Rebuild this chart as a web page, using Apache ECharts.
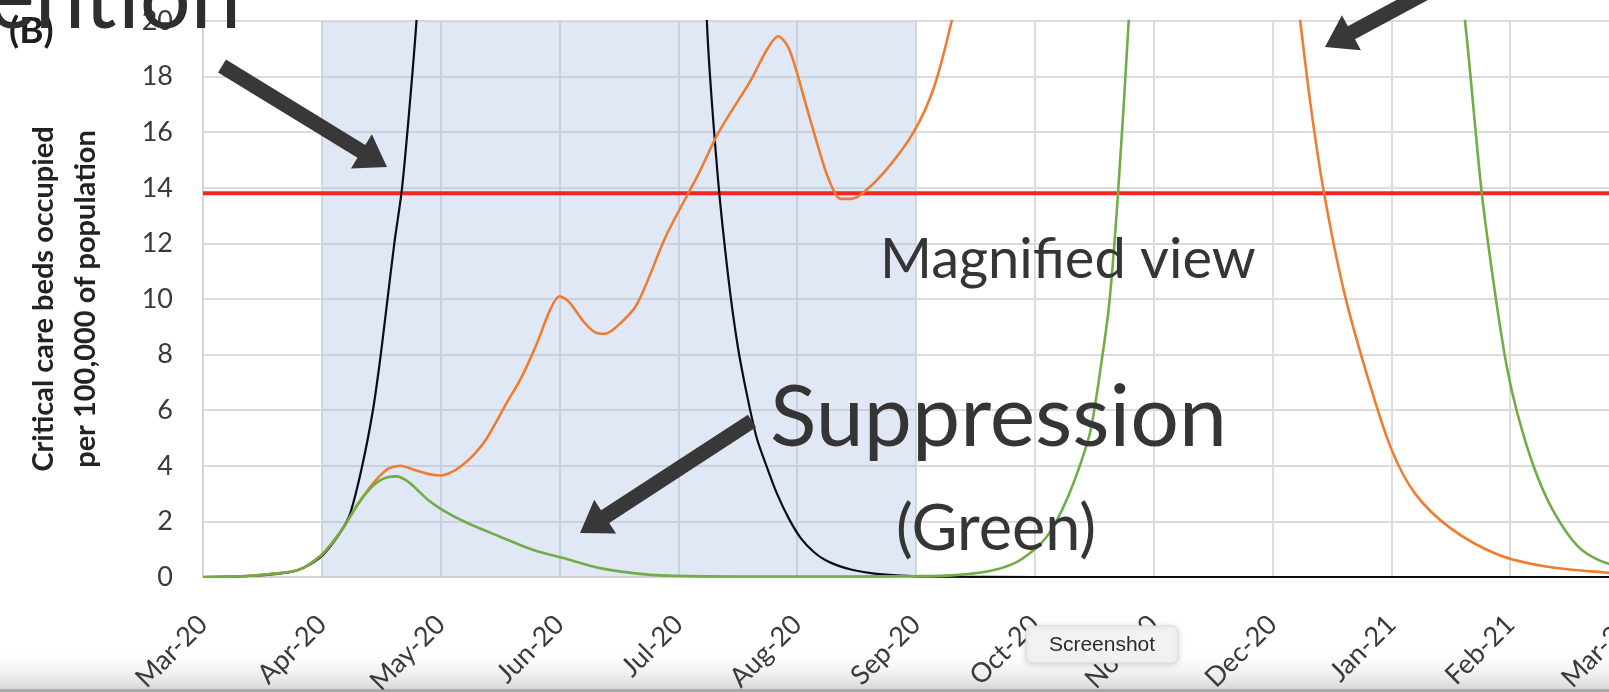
<!DOCTYPE html>
<html>
<head>
<meta charset="utf-8">
<script src="https://cdn.jsdelivr.net/npm/echarts@6/dist/echarts.min.js"></script>
<style>
  html, body { margin: 0; padding: 0; background: #ffffff; }
  #chart { width: 1609px; height: 692px; }
</style>
</head>
<body>
<div id="chart"></div>
<script>
// Month tick labels; x values below are months elapsed since Mar-20.
const monthLabels = ['Mar-20', 'Apr-20', 'May-20', 'Jun-20', 'Jul-20', 'Aug-20', 'Sep-20',
                     'Oct-20', 'Nov-20', 'Dec-20', 'Jan-21', 'Feb-21', 'Mar-21'];

// Critical care beds occupied per 100,000 — unmitigated epidemic (black)
const noActionX = [0, 0.3, 0.6, 0.8, 0.985, 1.09, 1.17, 1.24, 1.34, 1.43, 1.49, 1.55, 1.61, 1.675, 1.74, 1.80,
                   1.9, 2.0, 2.2, 2.5, 2.9, 3.3, 3.7, 4.0, 4.12,
                   4.24, 4.33, 4.42, 4.50, 4.58, 4.66, 4.75, 4.83, 4.93, 5.03, 5.14, 5.24, 5.35, 5.47, 5.65, 5.87, 6.2, 7, 12];
const noActionY = [0, 0.02, 0.1, 0.25, 0.7, 1.2, 1.7, 2.3, 4.0, 6.0, 7.8, 9.9, 12.0, 14.0, 17.0, 20.2,
                   27, 37, 65, 120, 170, 175, 130, 60, 36,
                   20, 14.5, 10.8, 8.3, 6.5, 5.0, 3.9, 3.0, 2.1, 1.4, 0.9, 0.6, 0.4, 0.25, 0.12, 0.05, 0.01, 0, 0];

// Intermittent measures (orange)
const mitigationX = [0, 0.3, 0.55, 0.8, 0.985, 1.1, 1.2, 1.3, 1.4, 1.48, 1.56, 1.66, 1.78, 1.9, 1.995, 2.08, 2.16,
                     2.28, 2.39, 2.56, 2.67, 2.8, 2.92, 3.0, 3.08, 3.2, 3.3, 3.38, 3.48, 3.65, 3.9, 4.17, 4.34,
                     4.6, 4.75, 4.84, 4.92, 4.98, 5.06, 5.12, 5.24, 5.32, 5.37, 5.45, 5.55, 5.76, 5.98, 6.15, 6.3,
                     6.5, 7.0, 7.5, 8.0, 8.5, 8.9, 9.1, 9.22, 9.32, 9.43, 9.6, 9.8, 10.0, 10.2, 10.5, 10.9, 11.3, 11.8, 12];
const mitigationY = [0, 0.02, 0.1, 0.25, 0.75, 1.3, 1.9, 2.6, 3.2, 3.6, 3.9, 4.0, 3.85, 3.7, 3.65, 3.75, 3.95,
                     4.4, 5.0, 6.3, 7.1, 8.3, 9.6, 10.1, 9.9, 9.2, 8.8, 8.75, 9.0, 9.8, 12.3, 14.5, 16.0,
                     17.8, 19.0, 19.45, 19.1, 18.4, 17.2, 16.3, 14.6, 13.8, 13.6, 13.6, 13.8, 14.7, 16.0, 17.6, 20,
                     24, 38, 55, 60, 48, 33, 25, 20.5, 17, 13.9, 10.3, 7.2, 4.6, 3.0, 1.75, 0.8, 0.38, 0.16, 0.12];

// Suppression (green)
const suppressionX = [0, 0.3, 0.55, 0.8, 0.985, 1.1, 1.2, 1.3, 1.4, 1.48, 1.56, 1.63, 1.72, 1.80, 1.9, 2.02, 2.22,
                      2.5, 2.78, 3.06, 3.34, 3.62, 3.9, 4.5, 5.5, 6.0, 6.3, 6.6, 6.83, 7.0, 7.1, 7.18, 7.27, 7.37,
                      7.47, 7.57, 7.63, 7.70, 7.79, 7.9, 8.1, 8.5, 9.0, 9.5, 10.0, 10.3, 10.5, 10.62, 10.76, 10.87,
                      10.97, 11.06, 11.2, 11.36, 11.57, 11.76, 12];
const suppressionY = [0, 0.02, 0.1, 0.25, 0.75, 1.3, 1.9, 2.6, 3.15, 3.45, 3.6, 3.62, 3.45, 3.15, 2.75, 2.4, 1.95,
                      1.45, 0.97, 0.65, 0.32, 0.14, 0.05, 0.02, 0.02, 0.03, 0.06, 0.2, 0.5, 1.0, 1.45, 2.0, 2.8, 3.9,
                      5.3, 8.0, 10.0, 13.8, 20, 29, 50, 90, 110, 90, 55, 35, 24, 20, 13.85, 10.3,
                      7.6, 5.9, 3.95, 2.4, 1.1, 0.58, 0.3];

// Critical care capacity line and the shaded intervention window (month indices)
const capacity = [13.8];
const shadedWindow = [1, 6];

const pairs = (xs, ys) => xs.map((x, i) => [x, ys[i]]);

// Thick annotation arrow as a polygon: tail point -> tip point
function arrowShape(tail, tip, shaftW, headW, headL) {
  const dx = tip[0] - tail[0], dy = tip[1] - tail[1];
  const len = Math.hypot(dx, dy);
  const ux = dx / len, uy = dy / len, px = -uy, py = ux;
  const bx = tip[0] - ux * headL, by = tip[1] - uy * headL;
  return [
    [tail[0] + px * shaftW / 2, tail[1] + py * shaftW / 2],
    [bx + px * shaftW / 2, by + py * shaftW / 2],
    [bx + px * headW / 2, by + py * headW / 2],
    [tip[0], tip[1]],
    [bx - px * headW / 2, by - py * headW / 2],
    [bx - px * shaftW / 2, by - py * shaftW / 2],
    [tail[0] - px * shaftW / 2, tail[1] - py * shaftW / 2]
  ];
}
function arrow(tail, tip) {
  return { type: 'polygon', z: 100, shape: { points: arrowShape(tail, tip, 15, 40, 30) },
           style: { fill: '#383838' } };
}

const FONT = 'Lato, "Open Sans", "Liberation Sans", sans-serif';
const ANNOT = '#353535';

const chart = echarts.init(document.getElementById('chart'), null, { renderer: 'canvas' });
chart.setOption({
  animation: false,
  backgroundColor: '#ffffff',
  grid: { left: 203, top: 21, width: 1426, height: 556, outerBoundsMode: 'none', containLabel: false },
  xAxis: {
    type: 'value', min: 0, max: 12, interval: 1,
    axisLine: { show: true, lineStyle: { color: '#d4d4d4', width: 2 } },
    axisTick: { show: false },
    splitLine: { show: true, lineStyle: { color: '#dcdcdc', width: 2 } },
    axisLabel: {
      rotate: 45, margin: 43, fontSize: 27, fontFamily: FONT, color: '#3a3a3a',
      showMaxLabel: true, showMinLabel: true,
      formatter: v => monthLabels[Math.round(v)]
    }
  },
  yAxis: {
    type: 'value', min: 0, max: 20, interval: 2,
    name: 'Critical care beds occupied\nper 100,000 of population',
    nameLocation: 'middle', nameGap: 96,
    nameTextStyle: { fontSize: 29, fontWeight: 'bold', fontFamily: FONT, color: '#222', lineHeight: 42 },
    axisLine: { show: true, lineStyle: { color: '#d4d4d4', width: 2 } },
    axisTick: { show: false },
    splitLine: { show: true, lineStyle: { color: '#dcdcdc', width: 2 } },
    axisLabel: { margin: 30, fontSize: 27, fontFamily: FONT, color: '#3a3a3a' }
  },
  series: [
    {
      name: 'window', type: 'line', data: [], z: 1, silent: true,
      markArea: {
        silent: true,
        itemStyle: { color: 'rgba(170,192,228,0.36)' },
        data: [[{ xAxis: shadedWindow[0] }, { xAxis: shadedWindow[1] }]]
      }
    },
    {
      name: 'Capacity', type: 'line', z: 2, silent: true, symbol: 'none',
      data: [[0, capacity[0]], [12, capacity[0]]],
      lineStyle: { color: '#f0281f', width: 4 }
    },
    {
      name: 'Do nothing', type: 'line', z: 3, symbol: 'none', smooth: 0.3,
      data: pairs(noActionX, noActionY),
      lineStyle: { color: '#0c0c16', width: 2.2 }
    },
    {
      name: 'Intermittent', type: 'line', z: 4, symbol: 'none', smooth: 0.3,
      data: pairs(mitigationX, mitigationY),
      lineStyle: { color: '#ED7D31', width: 2.6 }
    },
    {
      name: 'Suppression', type: 'line', z: 5, symbol: 'none', smooth: 0.3,
      data: pairs(suppressionX, suppressionY),
      lineStyle: { color: '#70AD47', width: 2.6 }
    }
  ],
  graphic: [
    // bottom fade strip
    { type: 'rect', z: -10, shape: { x: 0, y: 648, width: 1609, height: 44 },
      style: { fill: new echarts.graphic.LinearGradient(0, 0, 0, 1, [
        { offset: 0, color: 'rgba(255,255,255,0)' }, { offset: 1, color: '#d2d2d2' }]) } },
    { type: 'rect', z: -9, shape: { x: 0, y: 689, width: 1609, height: 3 }, style: { fill: '#a9a9a9' } },

    { type: 'text', z: 100, x: 9, y: 31,
      style: { text: '(B)', font: 'bold 37px ' + FONT, fill: '#1e1e1e', align: 'left', verticalAlign: 'middle' } },
    { type: 'text', z: 101, x: 241, y: -1,
      style: { text: 'ention', font: '90px ' + FONT, fill: '#2e2e2e', align: 'right', verticalAlign: 'middle' } },

    arrow([222, 66], [387, 167]),
    arrow([1440, -15], [1325, 47]),
    arrow([752, 421], [580, 533]),

    { type: 'text', z: 100, x: 880, y: 260,
      style: { text: 'Magnified view', font: '56px ' + FONT, fill: ANNOT, align: 'left', verticalAlign: 'middle' } },
    { type: 'text', z: 100, x: 770, y: 418,
      style: { text: 'Suppression', font: '86px ' + FONT, fill: ANNOT, align: 'left', verticalAlign: 'middle' } },
    { type: 'text', z: 100, x: 896, y: 530,
      style: { text: '(Green)', font: '63px ' + FONT, fill: ANNOT, align: 'left', verticalAlign: 'middle' } },

    // hover tag
    { type: 'rect', z: 120, shape: { x: 1026, y: 626, width: 152, height: 37, r: 6 },
      style: { fill: '#f2f2f2', stroke: '#dadada', lineWidth: 1,
               shadowBlur: 6, shadowColor: 'rgba(0,0,0,0.15)', shadowOffsetY: 1 } },
    { type: 'text', z: 121, x: 1102, y: 645,
      style: { text: 'Screenshot', font: '21px "Liberation Sans", Arial, sans-serif', fill: '#2b2b2b',
               align: 'center', verticalAlign: 'middle' } }
  ]
});
</script>
</body>
</html>
